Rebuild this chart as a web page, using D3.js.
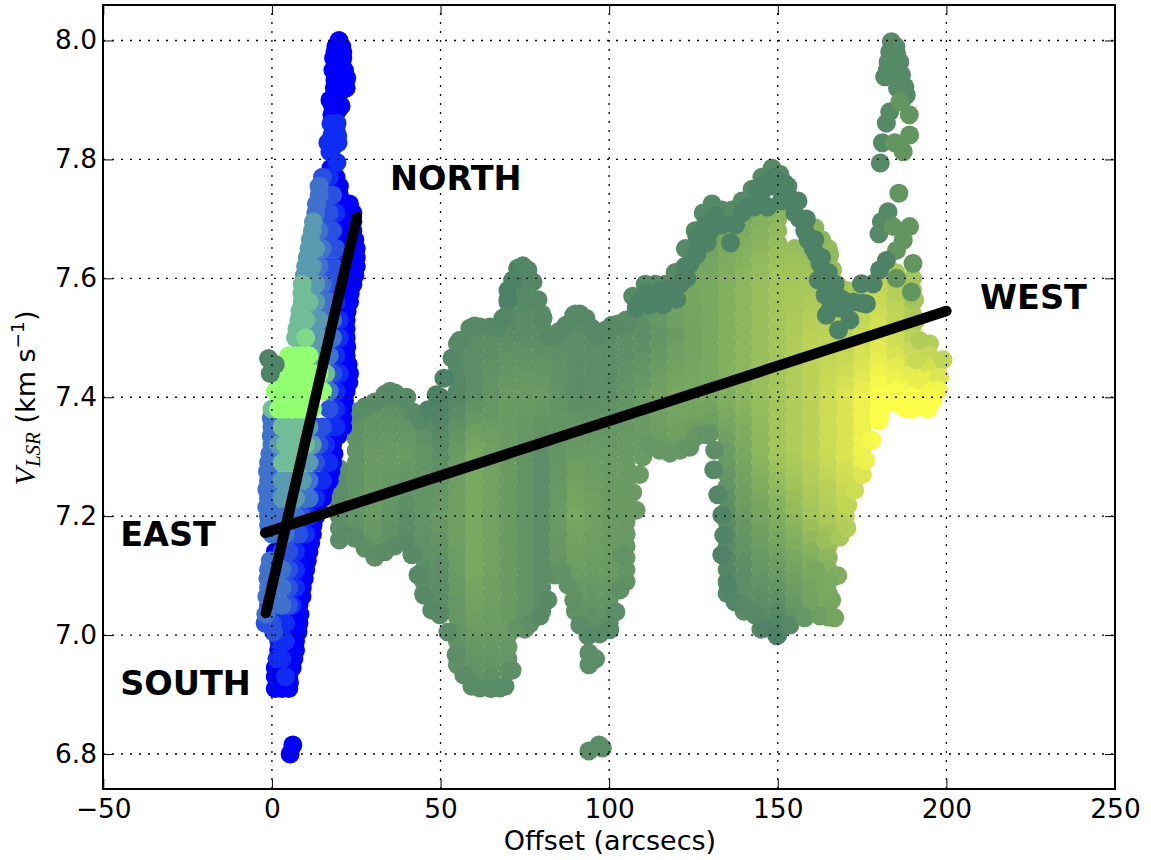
<!DOCTYPE html>
<html><head><meta charset="utf-8">
<script src="https://cdn.jsdelivr.net/npm/d3@7/dist/d3.min.js"></script>
<style>html,body{margin:0;padding:0;background:#fff}svg{display:block}text{font-family:"DejaVu Sans",sans-serif;fill:#000}</style>
</head><body><svg id="c" width="1151" height="860"></svg>
<script>
// East-west cut, rows are [offset, velocities...]
const ewColumns = [
[20,7.28,7.26,7.24,7.22,7.20,7.18,7.16],
[25,7.37,7.35,7.33,7.31,7.29,7.27,7.25,7.23,7.21,7.19,7.17],
[30,7.38,7.36,7.34,7.32,7.30,7.28,7.26,7.24,7.22,7.20,7.18,7.16,7.14],
[35,7.41,7.39,7.37,7.35,7.33,7.31,7.29,7.27,7.25,7.23,7.21,7.19,7.17,7.15],
[40,7.40,7.38,7.36,7.34,7.32,7.30,7.28,7.26,7.24,7.22,7.20,7.18,7.16],
[45,7.37,7.35,7.33,7.31,7.29,7.27,7.25,7.23,7.21,7.19,7.17,7.15,7.13,7.11,7.09,7.07],
[50,7.40,7.38,7.36,7.34,7.32,7.30,7.28,7.26,7.24,7.22,7.20,7.18,7.16,7.14,7.12,7.10,7.08,7.06,7.04],
[55,7.49,7.47,7.45,7.43,7.41,7.39,7.37,7.35,7.33,7.31,7.29,7.27,7.25,7.23,7.21,7.19,7.17,7.15,7.13,7.11,7.09,7.07,7.05,7.03,7.01,6.99,6.97,6.95],
[60,7.52,7.50,7.48,7.46,7.44,7.42,7.40,7.38,7.36,7.34,7.32,7.30,7.28,7.26,7.24,7.22,7.20,7.18,7.16,7.14,7.12,7.10,7.08,7.06,7.04,7.02,7.00,6.98,6.96,6.94,6.92],
[65,7.51,7.49,7.47,7.45,7.43,7.41,7.39,7.37,7.35,7.33,7.31,7.29,7.27,7.25,7.23,7.21,7.19,7.17,7.15,7.13,7.11,7.09,7.07,7.05,7.03,7.01,6.99,6.97,6.95,6.93,6.91],
[70,7.58,7.56,7.54,7.52,7.50,7.48,7.46,7.44,7.42,7.40,7.38,7.36,7.34,7.32,7.30,7.28,7.26,7.24,7.22,7.20,7.18,7.16,7.14,7.12,7.10,7.08,7.06,7.04,7.02,7.00,6.98,6.96,6.94],
[75,7.61,7.59,7.57,7.55,7.53,7.51,7.49,7.47,7.45,7.43,7.41,7.39,7.37,7.35,7.33,7.31,7.29,7.27,7.25,7.23,7.21,7.19,7.17,7.15,7.13,7.11,7.09,7.07,7.05,7.03,7.01],
[80,7.54,7.52,7.50,7.48,7.46,7.44,7.42,7.40,7.38,7.36,7.34,7.32,7.30,7.28,7.26,7.24,7.22,7.20,7.18,7.16,7.14,7.12,7.10,7.08,7.06,7.04],
[85,7.51,7.49,7.47,7.45,7.43,7.41,7.39,7.37,7.35,7.33,7.31,7.29,7.27,7.25,7.23,7.21,7.19,7.17,7.15,7.13,7.11],
[90,7.54,7.52,7.50,7.48,7.46,7.44,7.42,7.40,7.38,7.36,7.34,7.32,7.30,7.28,7.26,7.24,7.22,7.20,7.18,7.16,7.14,7.12,7.10,7.08,7.06,7.04],
[95,7.51,7.49,7.47,7.45,7.43,7.41,7.39,7.37,7.35,7.33,7.31,7.29,7.27,7.25,7.23,7.21,7.19,7.17,7.15,7.13,7.11,7.09,7.07,7.05,7.03,7.01],
[100,7.50,7.48,7.46,7.44,7.42,7.40,7.38,7.36,7.34,7.32,7.30,7.28,7.26,7.24,7.22,7.20,7.18,7.16,7.14,7.12,7.10,7.08,7.06,7.04,7.02],
[105,7.53,7.51,7.49,7.47,7.45,7.43,7.41,7.39,7.37,7.35,7.33,7.31,7.29,7.27,7.25,7.23,7.21,7.19,7.17,7.15,7.13,7.11,7.09],
[110,7.56,7.54,7.52,7.50,7.48,7.46,7.44,7.42,7.40,7.38,7.36,7.34,7.32,7.30],
[115,7.57,7.55,7.53,7.51,7.49,7.47,7.45,7.43,7.41,7.39,7.37,7.35,7.33],
[120,7.60,7.58,7.56,7.54,7.52,7.50,7.48,7.46,7.44,7.42,7.40,7.38,7.36,7.34,7.32],
[125,7.65,7.63,7.61,7.59,7.57,7.55,7.53,7.51,7.49,7.47,7.45,7.43,7.41,7.39,7.37,7.35,7.33],
[130,7.68,7.66,7.64,7.62,7.60,7.58,7.56,7.54,7.52,7.50,7.48,7.46,7.44,7.42,7.40,7.38,7.36,7.34],
[135,7.69,7.67,7.65,7.63,7.61,7.59,7.57,7.55,7.53,7.51,7.49,7.47,7.45,7.43,7.41,7.39,7.37,7.35,7.33,7.31,7.29,7.27,7.25,7.23,7.21,7.19,7.17,7.15,7.13,7.11,7.09,7.07],
[140,7.70,7.68,7.66,7.64,7.62,7.60,7.58,7.56,7.54,7.52,7.50,7.48,7.46,7.44,7.42,7.40,7.38,7.36,7.34,7.32,7.30,7.28,7.26,7.24,7.22,7.20,7.18,7.16,7.14,7.12,7.10,7.08,7.06,7.04],
[145,7.73,7.71,7.69,7.67,7.65,7.63,7.61,7.59,7.57,7.55,7.53,7.51,7.49,7.47,7.45,7.43,7.41,7.39,7.37,7.35,7.33,7.31,7.29,7.27,7.25,7.23,7.21,7.19,7.17,7.15,7.13,7.11,7.09,7.07,7.05,7.03,7.01],
[150,7.72,7.70,7.68,7.66,7.64,7.62,7.60,7.58,7.56,7.54,7.52,7.50,7.48,7.46,7.44,7.42,7.40,7.38,7.36,7.34,7.32,7.30,7.28,7.26,7.24,7.22,7.20,7.18,7.16,7.14,7.12,7.10,7.08,7.06,7.04,7.02,7.00],
[155,7.65,7.63,7.61,7.59,7.57,7.55,7.53,7.51,7.49,7.47,7.45,7.43,7.41,7.39,7.37,7.35,7.33,7.31,7.29,7.27,7.25,7.23,7.21,7.19,7.17,7.15,7.13,7.11,7.09,7.07,7.05,7.03],
[160,7.68,7.66,7.64,7.62,7.60,7.58,7.56,7.54,7.52,7.50,7.48,7.46,7.44,7.42,7.40,7.38,7.36,7.34,7.32,7.30,7.28,7.26,7.24,7.22,7.20,7.18,7.16,7.14,7.12,7.10,7.08,7.06,7.04],
[165,7.65,7.63,7.61,7.59,7.57,7.55,7.53,7.51,7.49,7.47,7.45,7.43,7.41,7.39,7.37,7.35,7.33,7.31,7.29,7.27,7.25,7.23,7.21,7.19,7.17,7.15,7.13,7.11,7.09,7.07,7.05,7.03],
[170,7.58,7.56,7.54,7.52,7.50,7.48,7.46,7.44,7.42,7.40,7.38,7.36,7.34,7.32,7.30,7.28,7.26,7.24,7.22,7.20,7.18],
[175,7.59,7.57,7.55,7.53,7.51,7.49,7.47,7.45,7.43,7.41,7.39,7.37,7.35,7.33,7.31,7.29,7.27],
[180,7.60,7.58,7.56,7.54,7.52,7.50,7.48,7.46,7.44,7.42,7.40,7.38,7.36],
[185,7.61,7.59,7.57,7.55,7.53,7.51,7.49,7.47,7.45,7.43,7.41,7.39],
[190,7.60,7.58,7.56,7.54,7.52,7.50,7.48,7.46,7.44,7.42,7.40,7.38],
[195,7.49,7.47,7.45,7.43,7.41,7.39]];
// Extra points along the envelope of the cut, as [offset, velocity]
const ewTopEdge = [[21.6,7.375],[24.6,7.375],[27.6,7.384],[30.5,7.392],[33.5,7.405],[36.5,7.407],[39.4,7.399],[41.8,7.375],[43.9,7.362],[46.3,7.379],[48.7,7.404],[51,7.432],[53.4,7.466],[55.7,7.496],[58.7,7.516],[61.7,7.518],[64.6,7.518],[66.7,7.516],[68.5,7.533],[70,7.564],[71.4,7.597],[72.9,7.617],[74.4,7.621],[75.9,7.614],[77.4,7.594],[78.9,7.564],[80.4,7.533],[82.4,7.501],[84.8,7.505],[87.2,7.521],[89.5,7.538],[91.3,7.54],[93.1,7.533],[94.9,7.516],[96.7,7.503],[99,7.513],[100.8,7.521],[102.6,7.523],[104.4,7.521],[106.1,7.53],[158,7.69],[161,7.685],[163,7.665],[165.4,7.64],[166.3,7.614],[167.8,7.589],[170,7.58],[173,7.58],[190.6,7.564],[191,7.53],[192,7.496],[191,7.463]];
const ewBottomEdge = [[21.6,7.168],[24.6,7.163],[27.6,7.146],[30.5,7.131],[33.5,7.14],[36.5,7.15],[39.4,7.157],[41.5,7.135],[43.3,7.101],[45.1,7.067],[47.4,7.042],[49.8,7.034],[52.2,7.005],[54.6,6.967],[56.9,6.933],[59.3,6.914],[61.7,6.911],[64.6,6.911],[67.6,6.911],[69.1,6.914],[71.2,6.941],[72.9,7.012],[76.5,7.019],[79.5,7.032],[81.8,7.059],[83.9,7.101],[86,7.106],[87.8,7.084],[89.5,7.059],[91.3,7.017],[93.7,6.999],[97.2,7.002],[100.2,7.009],[102,7.039],[103.2,7.076],[103.8,7.135],[112,7.32],[115,7.311],[118,7.306],[121,7.311],[123.9,7.316],[126.9,7.337],[129.3,7.337],[131.3,7.311],[131,7.278],[132.2,7.236],[133.4,7.202],[134,7.168],[133.4,7.135],[135.2,7.084],[137.3,7.056],[140.2,7.046],[143.2,7.034],[146.2,7.012],[149.7,6.999],[153.6,7.017],[158,7.029],[162.5,7.032],[166.9,7.029],[166,7.059],[163.7,7.084],[161.3,7.11],[167.8,7.10],[165,7.09]];
const ewStrays = [[107,7.27],[109,7.27],[107,7.24],[108,7.21],[103,7.22],[105,7.17],[104,7.25],[106,7.21],[94,6.97],[94,6.95],[96,6.96],[94,6.805],[97,6.815],[98,6.81],[164,7.16],[168.4,7.165],[170.5,7.18],[170.8,7.219],[172.8,7.244],[175,7.27],[176,7.294],[177.9,7.328],[180.3,7.37],[183.2,7.392],[187.7,7.382],[191.5,7.43],[199,7.463],[198,7.434],[197.5,7.412],[196,7.395],[194.5,7.38]];
// Dark crest and sparse western points, as [offset, velocity]
const crestUpper = [[107,7.57],[110.7,7.59],[113.7,7.59],[116.6,7.59],[119.6,7.61],[122.6,7.65],[125.5,7.68],[127.9,7.71],[130.5,7.725],[133.5,7.715],[136.4,7.715],[139.4,7.73],[142.4,7.75],[145.3,7.77],[148.3,7.785],[150.6,7.775],[153,7.755],[155,7.725],[183.7,7.998],[183.2,7.981],[182.7,7.964],[181.7,7.939],[185.2,7.978],[186.2,7.964],[186.7,7.942],[184.2,7.956],[184.2,7.939],[187.7,7.922],[188.1,7.908],[185,7.99],[182.5,7.95],[185.5,7.92],[186.8,7.90],[183.2,7.88],[182.2,7.861],[181,7.828],[180.4,7.794],[182.7,7.712],[180.7,7.695],[180,7.675]];
const crestLower = [[109,7.56],[113.7,7.57],[117.6,7.57],[121,7.59],[124,7.625],[127,7.66],[130,7.68],[133.5,7.69],[136,7.66],[139.4,7.71],[143,7.72],[145,7.735],[148,7.755],[147,7.72],[151,7.75],[154,7.73],[151,7.73],[155,7.71],[158,7.68],[160.5,7.65],[162.5,7.625],[164.5,7.60],[167,7.575],[168.5,7.55],[162,7.597],[164,7.572],[165.4,7.547],[164.4,7.538],[168,7.513],[171.4,7.53],[172.3,7.56],[175,7.558],[176.3,7.557],[178.3,7.591],[180.2,7.614],[174.8,7.591],[182.2,7.63],[111,7.575],[115.5,7.58],[119,7.585],[122.5,7.62],[126,7.67],[128.5,7.69],[131.5,7.705],[137.5,7.69],[141,7.72],[144,7.75],[146.5,7.76],[149,7.77],[152,7.76],[153,7.74],[156.5,7.70],[159,7.665],[161.5,7.64],[163.5,7.61],[165.5,7.585],[168,7.56],[156,7.73],[158.5,7.70],[161,7.665],[163,7.635],[165,7.61],[167,7.59],[169,7.565],[108,7.55],[112,7.555],[116,7.555],[120,7.565],[123,7.60],[126,7.64],[129,7.66]];
const westStrays = [[186.2,7.897],[189,7.875],[189.1,7.841],[184.7,7.828],[187.2,7.813],[185.9,7.743],[184.2,7.687],[189.1,7.687],[187.2,7.664],[185.2,7.647],[190.1,7.625],[185.2,7.60],[189.6,7.577]];
// Colour level of the cut at offsets 20,30..200 (columns) and velocities 7.7 down to 6.9 (rows)
const toneOffsets = [20,30,40,50,60,70,80,90,100,110,120,130,140,150,160,170,180,190,200];
const toneVelocities = [7.7,7.6,7.5,7.4,7.3,7.2,7.1,7.0,6.9];
const toneLevels = [
[2,2,2,2,2,2,2,2,2,2,2,2,3,4,4,4,4,4,4],
[2,2,2,2,1,0,1,1,1,2,3,3,4,5,5,5,6,5,5],
[1,1,1,1,1,1,1,1,1,1,2,3,4,5,6,6,7,6,5],
[1,1,1,0,1,2,2,1,1,2,3,3,4,5,6,7,8,8,8],
[1,2,2,1,3,2,1,2,2,2,2,1,3,5,6,7,8,8,8],
[1,2,1,2,3,2,1,3,2,2,2,0,2,3.5,5,6,6,6,6],
[1,1,1,1,3,2,1,2,2,1,1,0,1,2,3,4,4,4,4],
[1,1,1,1,2,2,1,1,1,1,1,0,1,0,2,3,3,3,3],
[1,1,1,1,1,1,1,1,1,1,1,1,1,1,1,1,1,1,1]];
const toneColours = ["#4c8067","#5c8d66","#6a9b63","#78a960","#8cb65d","#a3c55a","#bcd257","#dbe552","#feff48"];

// North-south cut, rows are [velocity, offsets...], one array per colour level
const nsPure = [[7.77,19],[7.74,20],[7.71,21,24],[7.68,20,22,24],[7.65,21,23,25],[7.62,22,25],[7.59,21,24],[7.56,21,23],[7.53,22],[7.50,22],[7.47,22],[7.44,23],[7.41,22],[7.38,21],[7.35,21],[7.32,18],[7.29,18],[7.26,17],[7.23,15],[7.20,13],[7.17,12],[7.14,1,9,11],[7.11,9,10],[7.08,9],[7.05,8],[7.02,6,8],[6.99,6,7],[6.96,5,6.5],[6.93,1,3,5],[6.91,1,3,5],[6.815,6.2],[6.80,5.4],[8.0,19.9],[7.99,19,20.7],[7.98,18.7,21],[7.97,18.3,21],[7.96,20.5],[7.95,18.1,21.5],[7.94,20.2],[7.937,22.2],[7.933,18.7],[7.92,18.5,22],[7.917,21],[7.91,19.5],[7.903,18.7],[7.90,17.2],[7.89,18,20.5],[7.883,19.6],[7.875,17.8],[7.785,17.5],[7.755,20],[7.725,23],[7.695,24],[7.665,24.6],[7.635,25],[7.605,24.6],[7.575,23.2],[7.545,22.3],[7.515,22],[7.485,22.2],[7.455,22.6],[7.425,22.8],[7.395,21.5],[7.365,21],[7.335,19.5],[7.305,18.4],[7.275,17.5],[7.245,15.5],[7.215,13.5],[7.185,12.2],[7.155,11.5],[7.125,10.5],[7.095,9.6],[7.065,8.9],[7.035,8.3],[7.005,7.7],[6.975,7],[6.945,6],[6.92,5.2],[6.975,2],[6.945,1]];
const nsBlue = [[7.77,17],[7.71,19],[7.62,20],[7.56,19],[7.53,20],[7.50,20],[7.47,19],[7.44,20],[7.41,19],[7.38,19],[7.35,17,19],[7.32,16],[7.29,15,17],[7.26,13,15],[7.23,13],[7.20,11],[7.17,10],[7.14,7],[7.11,7],[7.08,7],[7.05,6],[7.02,2,4],[6.99,2,4],[6.96,1.5,3],[6.93,4],[7.861,19.3],[7.86,17.5],[7.85,19],[7.84,19.5],[7.841,17.8],[7.828,16.6,19.6],[7.82,18],[7.813,17.2],[7.795,19.3]];
const nsSlate = [[7.77,15],[7.74,16,18],[7.71,15,17],[7.68,16,18],[7.65,17,19],[7.62,16,18],[7.59,17,19],[7.44,18],[7.38,17],[7.35,13,15],[7.32,14],[7.29,13],[7.20,9],[7.17,6,8],[7.14,3,5],[7.11,5],[7.08,5],[7.05,-1,1,5],[7.02,-2,0],[7.005,0.5]];
const nsSteel = [[7.74,14],[7.71,13],[7.68,14],[7.65,15],[7.62,14],[7.59,15],[7.56,15,17],[7.53,16,18],[7.50,16,18],[7.47,15,17],[7.41,17],[7.35,0],[7.32,0],[7.29,-1,1],[7.26,-1,1,11],[7.23,-1,1,9,11],[7.20,-1,1,3,5,7],[7.17,0,2,4],[7.11,-1,1,3],[7.08,-1,1,3],[7.05,3],[7.755,14],[7.725,13.2],[7.365,-0.2],[7.335,-0.2],[7.305,-0.6],[7.275,-1.3],[7.245,-1.5],[7.215,-1.5],[7.185,-1],[7.125,-0.5],[7.095,-1.2],[7.065,-1.5],[7.035,-1.8]];
const nsTeal = [[7.68,12],[7.65,11,13],[7.62,10,12],[7.59,11,13],[7.56,13],[7.53,12,14],[7.50,12,14],[7.47,13],[7.35,11],[7.32,2,12],[7.29,9,11],[7.26,3,5,7,9],[7.23,3,5,7],[7.695,12.3],[7.665,11.4],[7.635,10.5],[7.605,9.6]];
const nsSeafoam = [[7.59,9],[7.56,9,11],[7.53,8,10],[7.50,7,9],[7.44,16],[7.38,0],[7.35,3,5,7,9],[7.32,4,6,8,10],[7.29,3,5,7],[7.575,8.9],[7.545,8.3],[7.515,7.4]];
const nsMint = [[7.50,10]];
const nsLime = [[7.47,5,7,9,11],[7.44,2,4,6,8,10,12,14],[7.41,1,3,5,7,9,11,13,15],[7.38,2,4,6,8,10,12]];
const nsDarkPair = [[7.465,-1],[7.455,1],[7.44,-0.5]];

const xTicks = [-50,0,50,100,150,200,250];
const yTicks = [6.8,7.0,7.2,7.4,7.6,7.8,8.0];
const eastWestFit = [[-2,7.172],[200,7.545]];
const northSouthFit = [[-1.8,7.037],[25.2,7.703]];
const compass = [["NORTH",35,7.749],["WEST",210,7.548],["EAST",-45,7.15],["SOUTH",-45,6.899]];

const frame = {left:103,right:1115,top:5,bottom:789};
const x = d3.scaleLinear().domain([-50,250]).range([frame.left+0.3,frame.right]);
const y = d3.scaleLinear().domain([6.8,8.0]).range([754,40.5]);
const svg = d3.select("#c");

const byOffset = rows => rows.flatMap(([o,...vs]) => vs.map(v => [o,v]));
const byVelocity = rows => rows.flatMap(([v,...os]) => os.map(o => [o,v]));
const ramp = d3.scaleLinear().domain(toneColours.map((c,i)=>i)).range(toneColours).clamp(true);
function toneAt(o,v){
  const i = Math.max(0,Math.min(toneOffsets.length-1.001,(o-20)/10));
  const j = Math.max(0,Math.min(toneVelocities.length-1.001,(7.7-v)/0.1));
  const i0=Math.floor(i), j0=Math.floor(j), a=i-i0, b=j-j0;
  return d3.interpolateNumber(d3.interpolateNumber(toneLevels[j0][i0],toneLevels[j0][i0+1])(a),d3.interpolateNumber(toneLevels[j0+1][i0],toneLevels[j0+1][i0+1])(a))(b);
}
const dots = svg.append("g");
function toned(pts,shift){dots.append("g").selectAll("circle").data(pts).join("circle")
  .attr("cx",d=>x(d[0])).attr("cy",d=>y(d[1])).attr("r",9.5).attr("fill",d=>ramp(toneAt(d[0],d[1])-shift));}
function solid(pts,col){dots.append("g").selectAll("circle").data(pts).join("circle")
  .attr("cx",d=>x(d[0])).attr("cy",d=>y(d[1])).attr("r",9.5).attr("fill",col);}
toned(byOffset(ewColumns),0);
toned(ewTopEdge,0.3);
toned(ewBottomEdge,0.3);
toned(ewStrays,0);
solid(crestUpper,"#568965");
solid(westStrays,"#63955f");
solid(crestLower,"#4e8267");
[[nsPure,"#0000ff"],[nsBlue,"#0f2df2"],[nsSlate,"#2a50e0"],[nsSteel,"#3f72cc"],[nsTeal,"#5a9ab0"],[nsSeafoam,"#70bd98"],[nsMint,"#80d888"],[nsLime,"#92ff70"],[nsDarkPair,"#4f8268"]]
  .forEach(([rows,col]) => solid(byVelocity(rows),col));

// dotted grid over the points
const grid = svg.append("g").attr("stroke","#000").attr("stroke-width",1.3).attr("stroke-dasharray","2 7");
grid.selectAll(".gx").data(xTicks.slice(1,-1)).join("line").attr("x1",d=>x(d)).attr("x2",d=>x(d)).attr("y1",frame.bottom).attr("y2",frame.top);
grid.selectAll(".gy").data(yTicks).join("line").attr("y1",d=>y(d)).attr("y2",d=>y(d)).attr("x1",frame.left).attr("x2",frame.right);

// fitted gradients
const line = d3.line().x(d=>x(d[0])).y(d=>y(d[1]));
[eastWestFit,northSouthFit].forEach(f => svg.append("path").attr("d",line(f)).attr("fill","none").attr("stroke","#000").attr("stroke-width",10.5).attr("stroke-linecap","round"));

// axes
function style(g){g.select(".domain").remove();g.selectAll("line").attr("stroke","#000").attr("stroke-width",1);g.selectAll("text").attr("font-size",26.4).attr("font-family","DejaVu Sans").attr("fill","#000");}
const minus = d => d3.format("d")(d).replace("-","\u2212");
svg.append("g").attr("transform",`translate(0,${frame.bottom})`).call(d3.axisBottom(x).tickValues(xTicks).tickSizeInner(-10).tickPadding(10).tickFormat(minus)).call(style);
svg.append("g").attr("transform",`translate(0,${frame.top})`).call(d3.axisTop(x).tickValues(xTicks).tickSizeInner(-10).tickFormat("")).call(style);
svg.append("g").attr("transform",`translate(${frame.left},0)`).call(d3.axisLeft(y).tickValues(yTicks).tickSizeInner(-10).tickPadding(6).tickFormat(d3.format(".1f"))).call(style);
svg.append("g").attr("transform",`translate(${frame.right},0)`).call(d3.axisRight(y).tickValues(yTicks).tickSizeInner(-10).tickFormat("")).call(style);
svg.append("rect").attr("x",frame.left).attr("y",frame.top).attr("width",frame.right-frame.left).attr("height",frame.bottom-frame.top).attr("fill","none").attr("stroke","#000").attr("stroke-width",2);

svg.selectAll(".compass").data(compass).join("text").text(d=>d[0]).attr("x",d=>x(d[1])).attr("y",d=>y(d[2])).attr("font-size",33.5).attr("font-weight","bold");

svg.append("text").text("Offset (arcsecs)").attr("x",610).attr("y",850).attr("text-anchor","middle").attr("font-size",27);
const yl = svg.append("text").attr("transform","translate(35,398) rotate(-90)").attr("text-anchor","middle").attr("font-size",27);
yl.append("tspan").text("V").attr("font-family","Liberation Serif").attr("font-style","italic").attr("font-size",30);
yl.append("tspan").text("LSR").attr("font-family","Liberation Serif").attr("font-style","italic").attr("font-size",21).attr("dy",5);
yl.append("tspan").text(" (km s").attr("dy",-5);
yl.append("tspan").text("\u22121").attr("font-size",18.5).attr("dy",-11);
yl.append("tspan").text(")").attr("dy",11);
</script></body></html>
